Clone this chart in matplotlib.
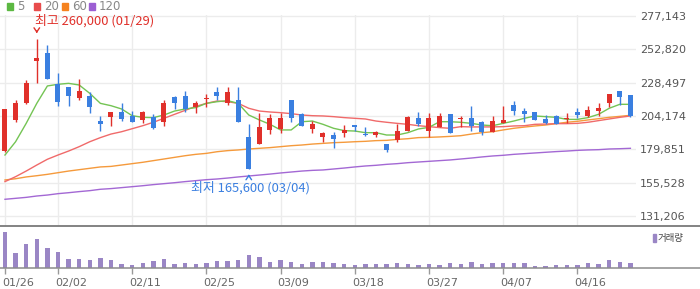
import matplotlib
matplotlib.use("Agg")
import matplotlib.pyplot as plt
import matplotlib.transforms as mtransforms
from matplotlib.lines import Line2D
from matplotlib.patches import Rectangle

plt.rcParams['font.family'] = ['DejaVu Sans']
CJK = ['Noto Sans CJK KR', 'DejaVu Sans']

# daily candles, 60 trading days (2026-01-26 .. 2026-04-23)
opens = [178500, 201000, 214000, 244500, 250000, 227500, 225500, 217500, 219000, 200500,
         203500, 207000, 204000, 201500, 203500, 199500, 218000, 219000, 210500, 216500,
         221500, 214000, 216000, 189000, 183500, 194000, 195000, 216000, 205500, 195000,
         189000, 190500, 191500, 197500, 190500, 190500, 184000, 186500, 193500, 202500,
         193500, 196500, 205500, 202000, 202500, 199500, 192500, 199000, 212500, 208000,
         207000, 202000, 204000, 202000, 207000, 204500, 208000, 214000, 222500, 219500]
highs = [209500, 215500, 230500, 260000, 256000, 235500, 225500, 231000, 221500, 204500,
         207000, 213500, 208000, 208000, 205500, 216000, 218500, 222500, 215000, 220000,
         225000, 225500, 225000, 198500, 206500, 205500, 206000, 216000, 206500, 200500,
         192500, 192500, 197500, 197500, 196000, 193000, 184000, 198000, 204000, 207000,
         206500, 206000, 205500, 204000, 211500, 200500, 204000, 211500, 215000, 210000,
         207000, 205000, 205000, 206500, 210000, 211500, 213500, 220500, 222500, 219500]
lows = [178000, 200000, 213000, 228500, 231000, 211500, 211500, 216000, 206000, 193500,
        197000, 200500, 200000, 199000, 194500, 197000, 209000, 207000, 206500, 210500,
        216000, 212500, 199500, 165600, 183500, 191000, 191500, 200000, 197000, 191500,
        185500, 181000, 188500, 193500, 189500, 189000, 178000, 185500, 193500, 197000,
        188500, 196500, 192000, 196500, 193500, 190000, 192500, 199000, 205000, 200000,
        201000, 198500, 198000, 199000, 203000, 203500, 204500, 211000, 212000, 203500]
closes = [209500, 213500, 228500, 246500, 231500, 214500, 219000, 222500, 211000, 198000,
          207000, 202000, 200000, 207000, 195500, 214000, 214000, 209500, 213500, 217000,
          219000, 221500, 199500, 165600, 196000, 202500, 202500, 203000, 197000, 198500,
          192000, 187500, 194000, 196500, 190000, 192500, 179000, 193000, 203500, 198500,
          202500, 204000, 192000, 202500, 197000, 192500, 200500, 201500, 208000, 205500,
          201500, 199000, 198000, 202500, 205000, 208500, 210000, 220500, 218000, 204500]
volumes = [2200, 920, 1460, 1760, 1220, 980, 560, 560, 500, 620,
           500, 260, 200, 320, 440, 560, 260, 320, 260, 320,
           440, 440, 500, 800, 680, 380, 500, 380, 260, 380,
           380, 320, 260, 200, 260, 260, 260, 320, 260, 200,
           260, 200, 320, 260, 380, 260, 320, 320, 320, 320,
           140, 140, 200, 200, 200, 320, 260, 500, 380, 320]

# moving averages (thousand won)
ma5 = [175.7, 185.4, 198.8, 213.4, 226.1, 227.3, 228.0, 226.8, 220.7, 213.4,
       211.7, 209.3, 204.4, 203.2, 203.0, 204.9, 207.8, 209.3, 210.3, 213.4,
       214.6, 215.4, 213.4, 204.9, 201.3, 198.1, 194.0, 194.0, 200.0, 200.5,
       198.1, 195.2, 193.5, 193.2, 192.0, 192.0, 190.3, 190.3, 192.0, 194.7,
       195.9, 200.0, 200.0, 199.6, 198.8, 197.6, 197.1, 198.8, 200.5, 202.5,
       204.2, 203.7, 203.2, 201.7, 201.7, 203.0, 205.4, 209.8, 212.7, 212.7]
ma20 = [156.3, 159.9, 164.0, 168.4, 172.6, 175.7, 178.6, 181.8, 185.4, 188.4,
        191.0, 192.7, 194.9, 197.1, 199.6, 202.5, 205.4, 208.3, 211.2, 213.4,
        215.1, 214.6, 213.4, 209.8, 207.8, 207.1, 206.6, 205.9, 204.9, 204.4,
        204.2, 203.7, 203.0, 202.5, 202.0, 200.5, 199.6, 198.8, 198.1, 197.1,
        196.4, 195.7, 195.2, 196.4, 196.2, 196.2, 196.2, 196.4, 196.9, 197.1,
        198.1, 198.3, 198.6, 198.6, 198.8, 199.6, 200.8, 202.0, 203.2, 204.2]
ma60 = [157.5, 158.4, 159.7, 160.6, 161.6, 162.8, 164.0, 165.0, 166.0, 167.0,
        167.4, 168.4, 169.4, 170.4, 171.6, 172.8, 174.0, 175.2, 176.2, 176.9,
        178.1, 178.9, 179.4, 180.1, 180.6, 181.1, 181.8, 182.5, 183.0, 183.7,
        184.2, 184.7, 185.0, 185.4, 185.7, 186.2, 186.4, 187.1, 187.6, 188.4,
        188.6, 188.9, 189.3, 189.8, 191.0, 192.0, 192.7, 194.0, 195.2, 196.1,
        196.9, 197.6, 198.6, 199.6, 200.3, 201.3, 202.2, 203.2, 203.9, 204.7]
ma120 = [143.4, 144.1, 144.8, 145.8, 146.5, 147.5, 148.2, 149.0, 149.7, 150.7,
         151.2, 151.9, 152.6, 153.3, 154.1, 154.8, 155.5, 156.3, 157.0, 157.7,
         158.2, 158.9, 159.7, 160.4, 161.1, 161.8, 162.6, 163.3, 164.0, 164.5,
         164.8, 165.5, 166.2, 167.0, 167.7, 168.2, 168.9, 169.4, 170.1, 170.6,
         171.1, 171.6, 172.1, 172.8, 173.5, 174.3, 175.0, 175.5, 176.2, 176.7,
         177.2, 177.7, 178.2, 178.6, 179.1, 179.4, 179.6, 180.1, 180.3, 180.6]

tick_idx = [0, 5, 12, 19, 26, 33, 40, 47, 54]
tick_labels = ['01/26', '02/02', '02/11', '02/25', '03/09', '03/18', '03/27', '04/07', '04/16']
price_ticks = [131206, 155528, 179851, 204174, 228497, 252820, 277143]
high_date, low_date = '01/29', '03/04'

UP, DOWN = '#e0302a', '#3a7fe0'
W, H = 700, 289


def px_rect(x0, y0, x1, y1):
    return [x0 / W, 1 - y1 / H, (x1 - x0) / W, (y1 - y0) / H]


fig = plt.figure(figsize=(W / 100, H / 100), dpi=100)
ax = fig.add_axes(px_rect(0, 15, 636, 226))
vax = fig.add_axes(px_rect(0, 227, 636, 268))

xs = list(range(len(closes)))
xlim = (-0.47, 59.53)

# price panel
for x in tick_idx:
    ax.axvline(x, color='#ececec', lw=1, zorder=0)
for y in price_ticks:
    ax.axhline(y, color='#ececec', lw=1, zorder=0)

ax.plot(xs, [v * 1000 for v in ma120], color='#a368d4', lw=1.0, zorder=2)
ax.plot(xs, [v * 1000 for v in ma60], color='#f59a3c', lw=1.0, zorder=2)
ax.plot(xs, [v * 1000 for v in ma20], color='#f06a6a', lw=1.0, zorder=2)
ax.plot(xs, [v * 1000 for v in ma5], color='#74c454', lw=1.0, zorder=2)

for i in xs:
    o, h, l, c = opens[i], highs[i], lows[i], closes[i]
    col = UP if c >= o else DOWN
    ax.vlines(i, l, h, color=col, lw=1, zorder=3)
    ax.bar(i, max(abs(c - o), 700), bottom=min(o, c), width=0.47, color=col, zorder=4)

ax.set_xlim(*xlim)
ax.set_ylim(123907, 277874)
ax.set_yticks(price_ticks)
ax.set_yticklabels([f'{v:,}' for v in price_ticks])
ax.yaxis.tick_right()
ax.tick_params(axis='y', length=0, pad=3, labelsize=8, labelcolor='#555555')
ax.set_xticks([])
for s in ax.spines.values():
    s.set_visible(False)

# high / low markers (pixel offsets from the extreme candles)
hi = highs.index(max(highs))
lo = lows.index(min(lows))
hx, hy = ax.transData.transform((hi, highs[hi]))
lx, ly = ax.transData.transform((lo, lows[lo]))
inv = fig.transFigure.inverted()
ax.annotate('', xy=inv.transform((hx, hy + 3.5)), xytext=inv.transform((hx, hy + 11.5)),
            xycoords='figure fraction', textcoords='figure fraction',
            arrowprops=dict(arrowstyle='->,head_length=0.3,head_width=0.2', color=UP, lw=1))
ax.annotate('', xy=inv.transform((lx, ly - 2.7)), xytext=inv.transform((lx, ly - 10.5)),
            xycoords='figure fraction', textcoords='figure fraction',
            arrowprops=dict(arrowstyle='->,head_length=0.3,head_width=0.2', color=DOWN, lw=1))
fig.text(*inv.transform((hx - 2, hy + 18.5)), f'최고 {highs[hi]:,} ({high_date})',
         family=CJK, fontsize=9.3, color=UP, ha='left', va='center')
fig.text(*inv.transform((lx - 58, ly - 18.5)), f'최저 {lows[lo]:,} ({low_date})',
         family=CJK, fontsize=9.3, color=DOWN, ha='left', va='center')

# volume panel
vax.bar(xs, volumes, width=0.42, color='#9a86c5')
vax.set_xlim(*xlim)
vax.set_ylim(0, max(volumes) * 41.3 / 36.6)
vax.set_yticks([])
vax.set_xticks(tick_idx)
vax.set_xticklabels(tick_labels)
vax.tick_params(axis='x', length=4, width=1, color='#999999', pad=3,
                labelsize=8, labelcolor='#666666')
shift = mtransforms.ScaledTranslation(-3 / 100, 0, fig.dpi_scale_trans)
for lab in vax.get_xticklabels():
    lab.set_horizontalalignment('left')
    lab.set_transform(lab.get_transform() + shift)
for s in vax.spines.values():
    s.set_visible(False)

fig.add_artist(Line2D([0, 1], [1 - 226 / H] * 2, color='#7a7a7a', lw=1.3))
fig.add_artist(Line2D([0, 1], [1 - 268.3 / H] * 2, color='#8c8c8c', lw=1.1))

fig.add_artist(Rectangle((652.5 / W, 1 - 242 / H), 3 / W, 8 / H, color='#9a86c5',
                         transform=fig.transFigure))
fig.text(658 / W, 1 - 238 / H, '거래량', family=CJK, fontsize=6.8, color='#444444',
         ha='left', va='center')

# MA legend
legend = [('5', '#5cb842', 7), ('20', '#e84c4c', 34), ('60', '#f5821f', 62), ('120', '#9c5fd3', 89)]
for name, col, lx0 in legend:
    fig.add_artist(Rectangle((lx0 / W, 1 - 9.5 / H), 6 / W, 6.5 / H, color=col,
                             transform=fig.transFigure))
    fig.text((lx0 + 10) / W, 1 - 6.3 / H, name, fontsize=8.5, color='#888888',
             ha='left', va='center')

fig.savefig('out.png', dpi=100)
